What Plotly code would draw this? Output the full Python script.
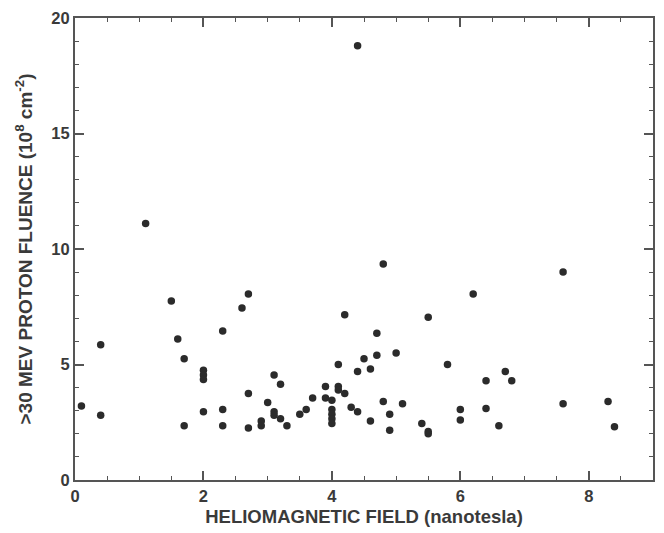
import plotly.graph_objects as go

# Heliomagnetic field (nanotesla)
field = [0.1, 0.4, 0.4, 1.1, 1.5, 1.6, 1.7, 1.7, 2.0, 2.0, 2.0, 2.0,
         2.3, 2.3, 2.3, 2.6, 2.7, 2.7, 2.7, 2.9, 2.9, 3.0, 3.1, 3.1, 3.1,
         3.2, 3.2, 3.3, 3.5, 3.6, 3.7, 3.9, 3.9, 4.0, 4.0, 4.0, 4.0, 4.0,
         4.1, 4.1, 4.1, 4.2, 4.2, 4.3, 4.4, 4.4, 4.4, 4.5, 4.6, 4.6, 4.7,
         4.7, 4.8, 4.8, 4.9, 4.9, 5.0, 5.1, 5.4, 5.5, 5.5, 5.5, 5.8, 6.0,
         6.0, 6.2, 6.4, 6.4, 6.6, 6.7, 6.8, 7.6, 7.6, 8.3, 8.4]
# >30 MeV proton fluence (10^8 cm^-2)
fluence = [3.2, 5.85, 2.8, 11.1, 7.75, 6.1, 5.25, 2.35, 4.75, 4.55, 4.35, 2.95,
           6.45, 3.05, 2.35, 7.45, 8.05, 3.75, 2.25, 2.55, 2.35, 3.35, 4.55, 2.95, 2.8,
           4.15, 2.65, 2.35, 2.85, 3.05, 3.55, 4.05, 3.55, 3.45, 3.05, 2.85, 2.65, 2.45,
           5.0, 4.05, 3.9, 7.15, 3.75, 3.15, 18.8, 4.7, 2.95, 5.25, 4.8, 2.55, 6.35,
           5.4, 9.35, 3.4, 2.85, 2.15, 5.5, 3.3, 2.45, 7.05, 2.1, 2.0, 5.0, 3.05,
           2.6, 8.05, 4.3, 3.1, 2.35, 4.7, 4.3, 9.0, 3.3, 3.4, 2.3]

x_ticks = [0, 2, 4, 6, 8]
y_ticks = [0, 5, 10, 15, 20]

axis_color = "#555555"
text_color = "#3a3a3a"
font_family = "Liberation Sans, Arial, sans-serif"

fig = go.Figure()
fig.add_trace(go.Scatter(
    x=field, y=fluence, mode="markers",
    marker=dict(size=7.5, color="#2b2b2b", line=dict(width=0)),
    showlegend=False, hoverinfo="x+y",
))

common = dict(
    showline=True, linecolor=axis_color, linewidth=2, mirror="allticks",
    ticks="inside", tickcolor=axis_color, tickwidth=1.5, ticklen=9,
    showgrid=False, zeroline=False,
    tickfont=dict(family=font_family, size=16.5, color=text_color, weight="bold"),
)

fig.update_xaxes(
    range=[0, 9], tickvals=x_ticks, ticktext=[str(v) for v in x_ticks],
    minor=dict(dtick=0.5, tick0=0, ticks="inside", ticklen=4, tickcolor=axis_color, tickwidth=1.2),
    title=dict(text="HELIOMAGNETIC FIELD (nanotesla)", standoff=6,
               font=dict(family=font_family, size=18.5, color=text_color, weight="bold")),
    **common,
)
fig.update_yaxes(
    range=[0, 20], tickvals=y_ticks, ticktext=[str(v) for v in y_ticks],
    minor=dict(dtick=1, tick0=0, ticks="inside", ticklen=4, tickcolor=axis_color, tickwidth=1.2),
    title=dict(text=">30 MEV PROTON FLUENCE (10<sup>8</sup> cm<sup>-2</sup>)", standoff=14,
               font=dict(family=font_family, size=19, color=text_color, weight="bold")),
    **common,
)

fig.update_layout(
    width=664, height=533,
    margin=dict(l=75, r=9, t=17, b=52),
    paper_bgcolor="white", plot_bgcolor="white",
)

fig.write_html("out.html", config={"displayModeBar": False},
               post_script="document.body.style.margin='0';")
